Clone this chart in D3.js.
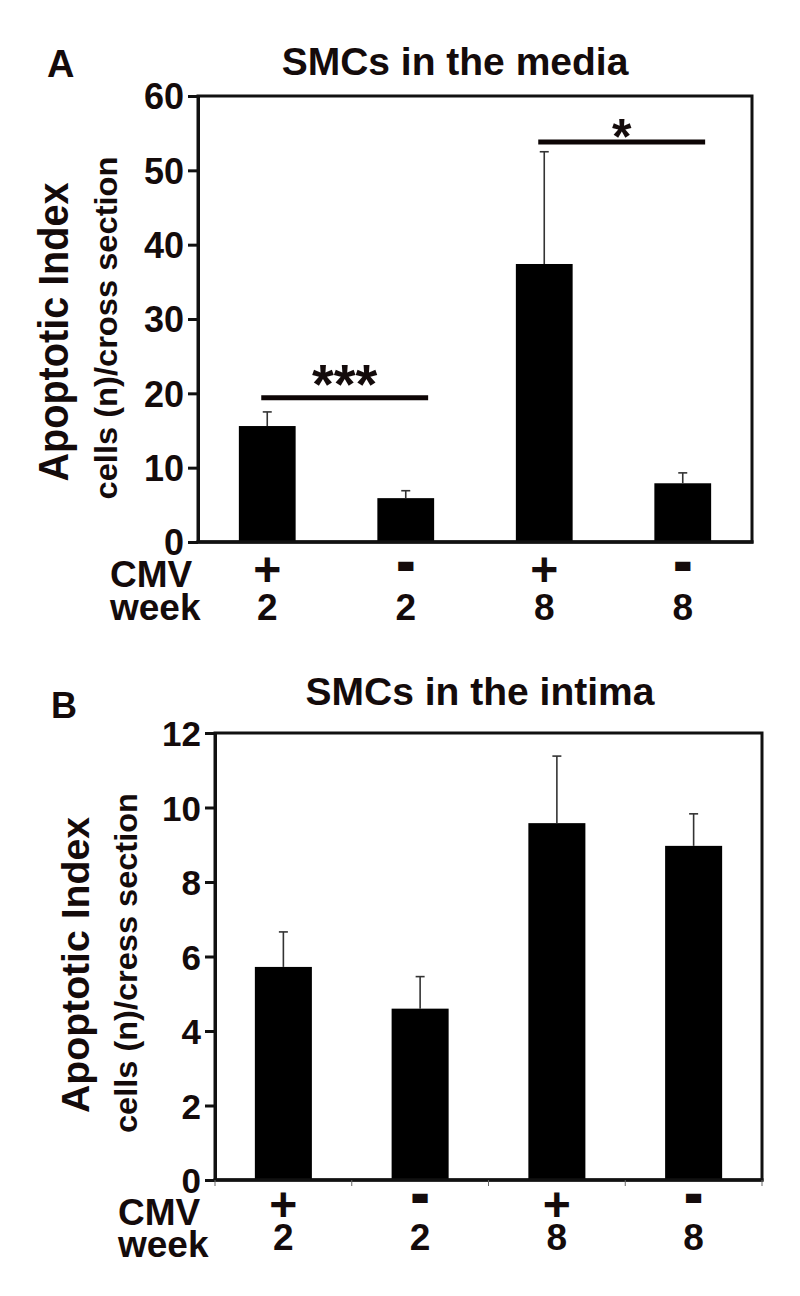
<!DOCTYPE html>
<html>
<head>
<meta charset="utf-8">
<script src="https://cdn.jsdelivr.net/npm/d3@7"></script>
<style>
  body { margin: 0; background: #fff; }
  text { font-family: "Liberation Sans", Arial, sans-serif; font-weight: bold; fill: #140b0b; }
</style>
</head>
<body>
<script>
// data
var cmvLabels = ["+", "-", "+", "-"];
var weekLabels = ["2", "2", "8", "8"];

var mediaMean = [15.6, 5.9, 37.4, 7.9];
var mediaErr = [1.9, 1.0, 15.1, 1.4];
var mediaTicks = [0, 10, 20, 30, 40, 50, 60];
var mediaSig = [[0, 1, 19.4, "***"], [2, 3, 53.8, "*"]];

var intimaMean = [5.72, 4.6, 9.58, 8.97];
var intimaErr = [0.94, 0.86, 1.8, 0.86];
var intimaTicks = [0, 2, 4, 6, 8, 10, 12];

var svg = d3.select("body").append("svg")
  .attr("width", 800)
  .attr("height", 1296);

// panel layout
var panels = [
  { letter: "A", letterX: 47, letterY: 77, letterSize: 38,
    title: "SMCs in the media", titleX: 455, titleY: 75,
    left: 198, right: 752, top: 96, bottom: 542,
    max: 60, ticks: mediaTicks, mean: mediaMean, err: mediaErr, sig: mediaSig,
    tickSize: 36, pad: 0.59,
    lab1X: 68, lab1Y: 332, lab1Size: 42, lab1Len: 299,
    lab2X: 117, lab2Y: 328, lab2Len: 343,
    cmvY: 587, weekY: 620, plusY: 586, minusY: 578, digitY: 620, rowLabX: 110, boundTicks: false,
    lab2: "cells (n)/cross section" },
  { letter: "B", letterX: 51, letterY: 718, letterSize: 36,
    title: "SMCs in the intima", titleX: 480, titleY: 705,
    left: 215, right: 762, top: 733, bottom: 1180,
    max: 12, ticks: intimaTicks, mean: intimaMean, err: intimaErr, sig: [],
    tickSize: 35, pad: 0.583,
    lab1X: 89, lab1Y: 965, lab1Size: 38, lab1Len: 296,
    lab2X: 137, lab2Y: 963, lab2Len: 340,
    cmvY: 1225, weekY: 1257, plusY: 1221, minusY: 1210, digitY: 1250, rowLabX: 118, boundTicks: true,
    lab2: "cells (n)/cress section" }
];

panels.forEach(function(p) {
  var idx = d3.range(p.mean.length);
  var x = d3.scaleBand().domain(idx).range([p.left, p.right])
    .paddingInner(p.pad).paddingOuter(p.pad / 2);
  var y = d3.scaleLinear().domain([0, p.max]).range([p.bottom, p.top]);
  var g = svg.append("g");

  g.append("text").attr("x", p.letterX).attr("y", p.letterY)
    .style("font-size", p.letterSize + "px").text(p.letter);
  g.append("text").attr("x", p.titleX).attr("y", p.titleY)
    .attr("text-anchor", "middle").style("font-size", "39px").text(p.title);

  // frame (top + right)
  g.append("rect")
    .attr("x", p.left).attr("y", p.top)
    .attr("width", p.right - p.left).attr("height", p.bottom - p.top)
    .attr("fill", "none").attr("stroke", "#111").attr("stroke-width", 3);

  // bars
  g.selectAll(".bar").data(p.mean).enter().append("rect")
    .attr("x", function(d, i) { return x(i); })
    .attr("y", function(d) { return y(d); })
    .attr("width", x.bandwidth())
    .attr("height", function(d) { return p.bottom - y(d); })
    .attr("fill", "#000");

  // error bars, upper only
  var cx = function(i) { return x(i) + x.bandwidth() / 2; };
  g.selectAll(".err").data(p.mean).enter().append("line")
    .attr("x1", function(d, i) { return cx(i); })
    .attr("x2", function(d, i) { return cx(i); })
    .attr("y1", function(d) { return y(d); })
    .attr("y2", function(d, i) { return y(d + p.err[i]); })
    .attr("stroke", "#333").attr("stroke-width", 1.6);
  g.selectAll(".cap").data(p.mean).enter().append("line")
    .attr("x1", function(d, i) { return cx(i) - 4.5; })
    .attr("x2", function(d, i) { return cx(i) + 4.5; })
    .attr("y1", function(d, i) { return y(d + p.err[i]); })
    .attr("y2", function(d, i) { return y(d + p.err[i]); })
    .attr("stroke", "#333").attr("stroke-width", 1.6);

  // y axis
  var ax = g.append("g").attr("transform", "translate(" + p.left + ",0)")
    .call(d3.axisLeft(y).tickValues(p.ticks).tickSize(10).tickSizeOuter(0).tickPadding(4));
  ax.select(".domain").attr("stroke", "#111").attr("stroke-width", 3);
  ax.selectAll(".tick line").attr("stroke", "#111").attr("stroke-width", 3);
  ax.selectAll(".tick text").style("font-size", p.tickSize + "px")
    .attr("fill", "#140b0b").attr("dy", "0.36em")
    .style("font-family", "'Liberation Sans', Arial, sans-serif");

  // bottom axis line
  g.append("line").attr("x1", p.left - 1.5).attr("x2", p.right + 1.5)
    .attr("y1", p.bottom).attr("y2", p.bottom)
    .attr("stroke", "#111").attr("stroke-width", 3.5);
  if (p.boundTicks) {
    g.selectAll(".bt").data(d3.range(p.mean.length + 1)).enter().append("line")
      .attr("x1", function(d) { return p.left + d * x.step(); })
      .attr("x2", function(d) { return p.left + d * x.step(); })
      .attr("y1", p.bottom).attr("y2", p.bottom + 6)
      .attr("stroke", "#666").attr("stroke-width", 1);
  }

  // y labels
  g.append("text")
    .attr("transform", "translate(" + p.lab1X + "," + p.lab1Y + ") rotate(-90)")
    .attr("text-anchor", "middle")
    .attr("textLength", p.lab1Len).attr("lengthAdjust", "spacingAndGlyphs")
    .style("font-size", p.lab1Size + "px").text("Apoptotic Index");
  g.append("text")
    .attr("transform", "translate(" + p.lab2X + "," + p.lab2Y + ") rotate(-90)")
    .attr("text-anchor", "middle")
    .attr("textLength", p.lab2Len).attr("lengthAdjust", "spacingAndGlyphs")
    .style("font-size", "31px").text(p.lab2);

  // category rows
  g.append("text").attr("x", p.rowLabX).attr("y", p.cmvY)
    .style("font-size", "37px").text("CMV");
  g.append("text").attr("x", p.rowLabX).attr("y", p.weekY)
    .style("font-size", "37px").text("week");

  cmvLabels.forEach(function(s, i) {
    if (s === "-") {
      g.append("text").attr("x", cx(i)).attr("y", p.minusY)
        .attr("text-anchor", "middle").style("font-size", "44px")
        .attr("stroke", "#140b0b").attr("stroke-width", 4)
        .text(s);
    } else {
      g.append("text").attr("x", cx(i)).attr("y", p.plusY)
        .attr("text-anchor", "middle").style("font-size", "48px").text(s);
    }
  });
  g.selectAll(".wk").data(weekLabels).enter().append("text")
    .attr("x", function(d, i) { return cx(i); })
    .attr("y", p.digitY)
    .attr("text-anchor", "middle").style("font-size", "37px")
    .text(function(d) { return d; });

  // significance bars
  p.sig.forEach(function(s) {
    var x1 = cx(s[0]) - 6, x2 = x(s[1]) + x.bandwidth() - 6;
    g.append("line").attr("x1", x1).attr("x2", x2)
      .attr("y1", y(s[2])).attr("y2", y(s[2]))
      .attr("stroke", "#0d0505").attr("stroke-width", 5);
    g.append("text").attr("x", (x1 + x2) / 2).attr("y", y(s[2]) + (s[3].length > 1 ? 5 : 12))
      .attr("text-anchor", "middle").style("font-size", s[3].length > 1 ? "56px" : "50px")
      .text(s[3]);
  });
});
</script>
</body>
</html>
